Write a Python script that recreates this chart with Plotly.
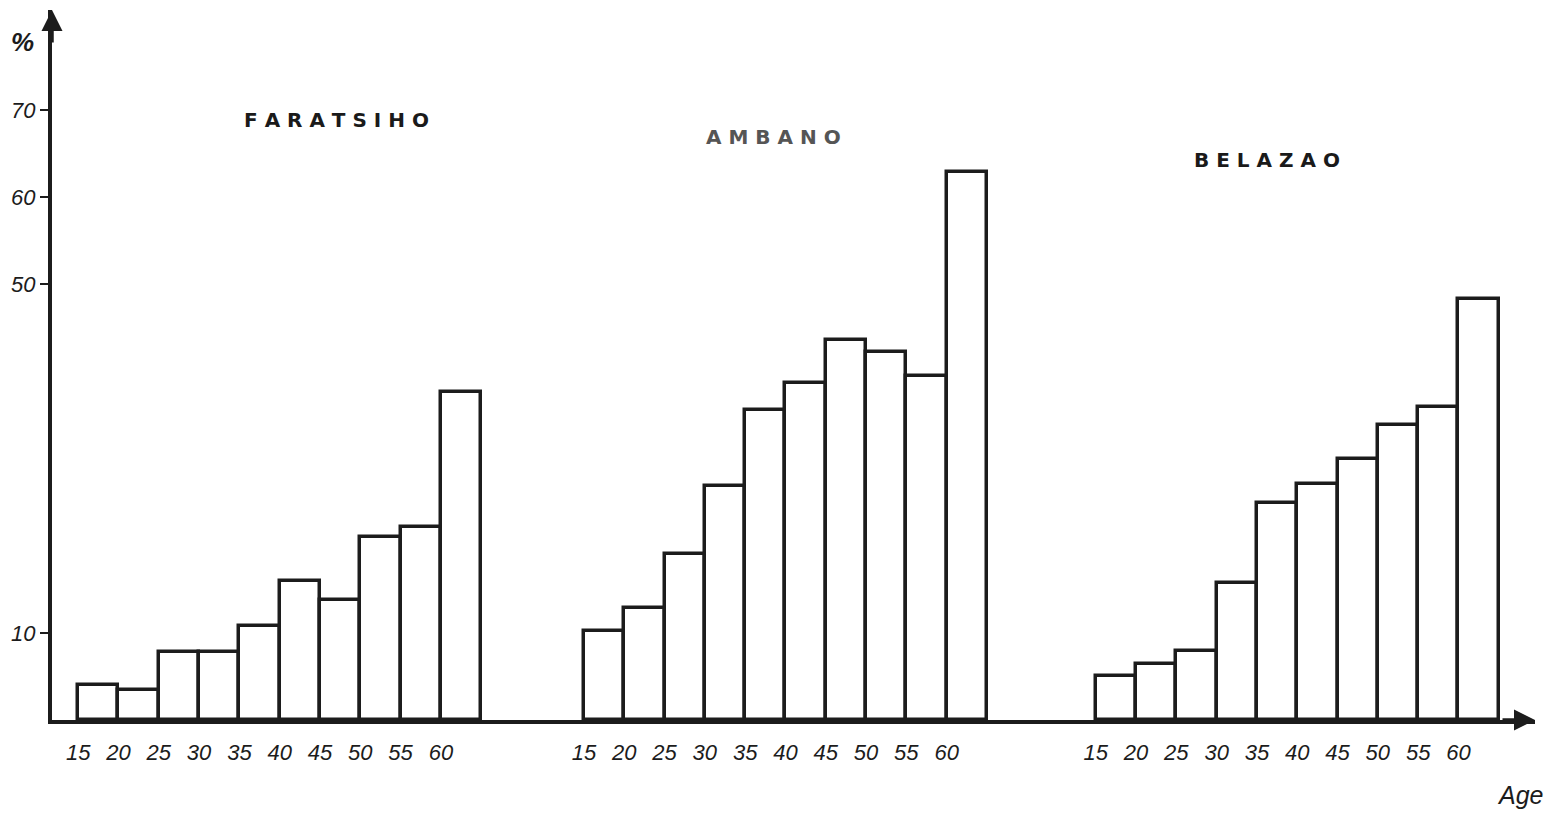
import plotly.graph_objects as go

# ---- data ----
age_labels = ["15", "20", "25", "30", "35", "40", "45", "50", "55", "60"]
villages = ["FARATSIHO", "AMBANO", "BELAZAO"]
faratsiho = [4.0, 3.4, 7.8, 7.8, 10.8, 16.0, 13.8, 21.0, 22.2, 37.6]
ambano = [10.2, 12.9, 19.0, 26.9, 35.6, 38.7, 43.6, 42.2, 39.5, 62.9]
belazao = [5.1, 6.4, 7.9, 15.7, 24.9, 27.1, 30.0, 33.9, 35.9, 48.3]
y_tick_vals = [10, 50, 60, 70]

series = [faratsiho, ambano, belazao]

# ---- layout constants ----
group_start = [0.65, 13.2, 25.9]
title_pos = [(7.07, 68.9), (17.9, 66.9), (30.15, 64.3)]
title_color = ["#1a1a1a", "#555555", "#1a1a1a"]
X_MAX = 36.8
Y_MAX = 81.5
INK = "#1c1c1c"
HAND = "Liberation Sans"

fig = go.Figure()
tickvals, ticktext = [], []
for g, vals in enumerate(series):
    xs = [group_start[g] + i + 0.5 for i in range(len(vals))]
    fig.add_trace(go.Bar(
        x=xs, y=vals, width=1.0,
        marker=dict(color="white", line=dict(color=INK, width=3.5)),
        showlegend=False, name=villages[g],
    ))
    for i, lab in enumerate(age_labels):
        tickvals.append(group_start[g] + i)
        ticktext.append(lab)

for g, name in enumerate(villages):
    fig.add_annotation(
        x=title_pos[g][0], y=title_pos[g][1], xref="x", yref="y",
        text="&nbsp;".join(list(name)), showarrow=False,
        font=dict(family="DejaVu Sans", size=20, color=title_color[g], weight="bold"),
    )

# axis arrows
fig.add_annotation(x=0, y=Y_MAX, xref="x", yref="y", ax=0, ay=34, axref="pixel", ayref="pixel",
                   text="", showarrow=True, arrowhead=2, arrowsize=1.2, arrowwidth=3.5, arrowcolor=INK)
fig.add_annotation(x=X_MAX, y=0, xref="x", yref="y", ax=-34, ay=0, axref="pixel", ayref="pixel",
                   text="", showarrow=True, arrowhead=2, arrowsize=1.2, arrowwidth=3.5, arrowcolor=INK)

fig.add_annotation(x=-0.02, y=0.955, xref="paper", yref="paper", text="%", showarrow=False,
                   xanchor="center", yanchor="middle",
                   font=dict(family=HAND, size=26, color=INK, style="italic", weight="bold"))
fig.add_annotation(x=0.99, y=-0.106, xref="paper", yref="paper", text="Age", showarrow=False,
                   xanchor="center", yanchor="middle",
                   font=dict(family=HAND, size=25, color=INK, style="italic"))

# page body adds an 8px offset; margins compensate so the plot area sits at x 52-1535, y 10-720
fig.update_layout(
    width=1554, height=819,
    margin=dict(l=44, r=27, t=2, b=107, autoexpand=False),
    paper_bgcolor="white", plot_bgcolor="white",
    bargap=0,
    xaxis=dict(range=[0, X_MAX], showgrid=False, zeroline=False, automargin=False,
               showline=True, linecolor=INK, linewidth=4,
               tickmode="array", tickvals=tickvals, ticktext=ticktext,
               ticks="", ticklabelstandoff=10,
               tickfont=dict(family=HAND, size=22, color=INK, style="italic")),
    yaxis=dict(range=[0, Y_MAX], showgrid=False, zeroline=False, automargin=False,
               showline=True, linecolor=INK, linewidth=4,
               tickmode="array", tickvals=y_tick_vals,
               ticks="outside", ticklen=8, tickwidth=2, tickcolor=INK,
               tickfont=dict(family=HAND, size=22, color=INK, style="italic")),
)

fig.write_html("out.html")
